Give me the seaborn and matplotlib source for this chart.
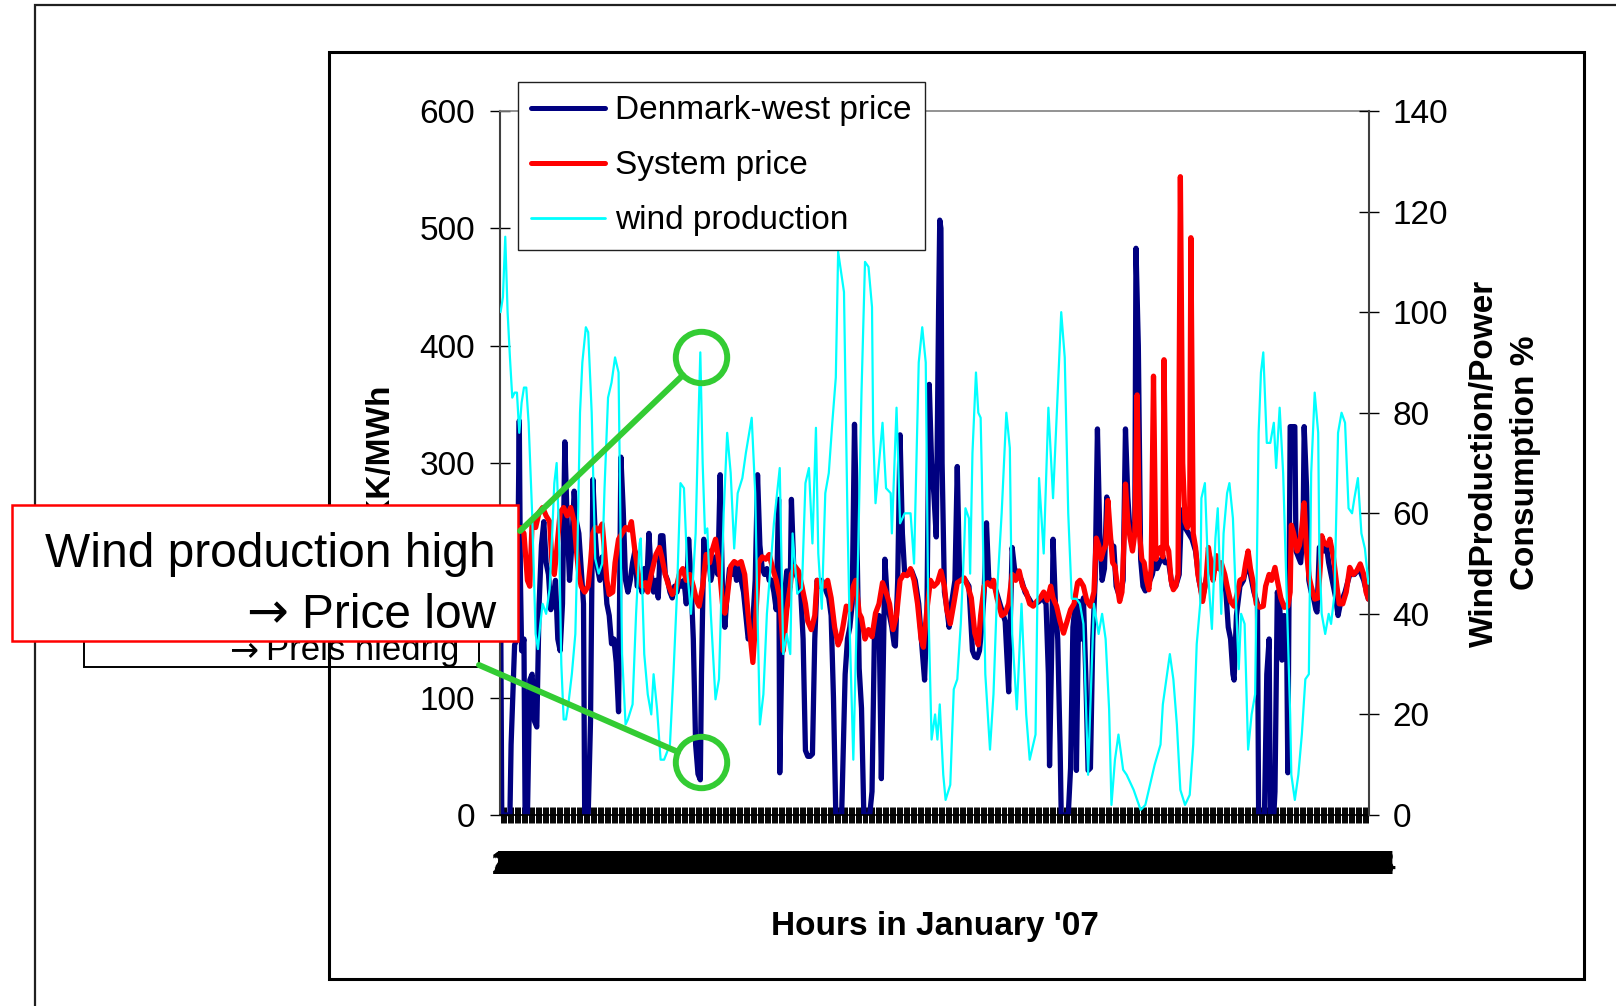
import pandas as pd
import matplotlib
matplotlib.use("Agg")
import matplotlib.pyplot as plt
import seaborn as sns
from matplotlib.patches import Rectangle, ConnectionPatch
from matplotlib.lines import Line2D

# hourly values (hour, value)
dkw_points = [
    (1, 190), (2, 0), (9, 0), (10, 60), (13, 145), (15, 150), (17, 336), (18, 200), (19, 140), (21, 150),
    (22, 0), (24, 0), (26, 115), (28, 120), (30, 80), (32, 75), (34, 180), (36, 230), (38, 250), (40, 215),
    (42, 205), (44, 175), (46, 185), (48, 200), (50, 150), (52, 140), (54, 180), (56, 318), (58, 250), (60, 200),
    (62, 230), (64, 276), (66, 250), (68, 240), (70, 210), (72, 180), (73, 0), (76, 0), (78, 80), (80, 286),
    (82, 240), (84, 210), (86, 200), (88, 220), (90, 210), (92, 180), (94, 170), (96, 146), (98, 150), (100, 130),
    (102, 88), (104, 305), (106, 260), (108, 200), (110, 190), (112, 200), (114, 215), (116, 225), (118, 195),
    (120, 200), (122, 190), (124, 210),
    (126, 195), (128, 240), (130, 205), (132, 190), (134, 200), (136, 185), (138, 238), (140, 238), (142, 205),
    (144, 200), (146, 190), (148, 185), (150, 195), (152, 190), (154, 200), (156, 195), (158, 200), (160, 180),
    (162, 235), (164, 200), (166, 150), (168, 60), (170, 35), (172, 30), (173, 120), (175, 235), (177, 215),
    (179, 225), (181, 200), (183, 210), (185, 220), (187, 205), (189, 290), (191, 190), (193, 160), (195, 190),
    (197, 210), (199, 205), (201, 215), (203, 200), (205, 210), (207, 200), (209, 190), (211, 170), (213, 150),
    (215, 155), (217, 165), (219, 200), (221, 290), (223, 230), (225, 210), (227, 205), (229, 210), (231, 200),
    (233, 200), (235, 190), (237, 175), (239, 269), (240, 36), (242, 150), (244, 185), (246, 208), (248, 200),
    (249, 195), (250, 269), (252, 210), (254, 205), (256, 200), (258, 190), (260, 150), (262, 55), (264, 50),
    (266, 50), (268, 52), (270, 150), (272, 200), (274, 195), (276, 200), (278, 195), (280, 190), (282, 185),
    (284, 170), (286, 100), (288, 0), (291, 0), (293, 0), (294, 40), (296, 120), (298, 150), (300, 160),
    (302, 180), (304, 333), (306, 240), (308, 125), (310, 91), (312, 0), (314, 0), (317, 0), (319, 20),
    (321, 150), (323, 160), (325, 170), (327, 31), (329, 150), (330, 218), (332, 185), (334, 170), (336, 160),
    (338, 145), (339, 144), (341, 200), (343, 324), (345, 240), (347, 205), (350, 205), (353, 208), (356, 200),
    (359, 180), (362, 140), (364, 115), (366, 170), (368, 367), (370, 300), (372, 273),
    (374, 237), (376, 430), (377, 507), (378, 500), (379, 300), (381, 190), (383, 177), (385, 160), (387, 180),
    (390, 200), (392, 297), (394, 200), (396, 200), (399, 200), (402, 195), (405, 140), (407, 135), (409, 134),
    (411, 140), (413, 160), (415, 190), (417, 249), (419, 200), (421, 200), (424, 195), (427, 185), (430, 175),
    (433, 165), (436, 105), (437, 150), (439, 228), (441, 210), (444, 205), (447, 200), (450, 190), (453, 185),
    (456, 180), (459, 180), (462, 182), (465, 185), (468, 180), (470, 120), (471, 42), (473, 150), (474, 235),
    (476, 180), (478, 150), (480, 60), (481, 0), (484, 0), (487, 0), (489, 40), (491, 160), (493, 180),
    (494, 38), (496, 182),
    (498, 150), (500, 185), (502, 120), (504, 38), (506, 40), (508, 150), (510, 200), (512, 329), (514, 240),
    (516, 200), (518, 210), (520, 271), (522, 240), (524, 230), (526, 229), (528, 195), (530, 189), (532, 190),
    (534, 200), (536, 329), (538, 271), (540, 240), (542, 230), (544, 250), (545, 483), (547, 400), (549, 218),
    (551, 195), (553, 191), (555, 200), (557, 200), (559, 205), (561, 215), (563, 210), (565, 215), (568, 220),
    (570, 215), (573, 215), (576, 195), (579, 195), (582, 205), (584, 260), (587, 245), (590, 240), (593, 235),
    (596, 225), (599, 200), (602, 185), (605, 200), (608, 220), (611, 205), (614, 215), (617, 210), (620, 205),
    (622, 190), (624, 160), (626, 150), (628, 120), (629, 115), (631, 170), (634, 195), (637, 200), (640, 215),
    (643, 205), (646, 190), (649, 180), (650, 0), (653, 0), (655, 0), (657, 120), (659, 150), (660, 0),
    (663, 0), (664, 20), (666, 190), (668, 180), (670, 132), (672, 170), (674, 150), (675, 36), (677, 331),
    (679, 331), (681, 331), (682, 225), (684, 220), (686, 215), (688, 240), (689, 331), (691, 280), (693, 200),
    (695, 190), (697, 185), (699, 175), (700, 173), (702, 228), (704, 230), (706, 225), (708, 230), (710, 215),
    (713, 200), (716, 185), (718, 170), (720, 180), (724, 190), (728, 205), (732, 205), (736, 210), (740, 200),
    (744, 184),
]

system_points = [
    (1, 240), (5, 235), (10, 230), (15, 240), (18, 245), (21, 240), (24, 200), (26, 195), (28, 250), (31, 245),
    (34, 258), (37, 262), (40, 255), (43, 250), (45, 215), (47, 205), (49, 225), (52, 258), (55, 262), (58, 255),
    (61, 262), (64, 250), (66, 225), (68, 205), (70, 195), (73, 190), (76, 195), (78, 215), (80, 240), (82, 245),
    (85, 242), (88, 248), (90, 225), (92, 200), (94, 188), (97, 190), (99, 215), (102, 235), (105, 240),
    (108, 245), (111, 243), (113, 250), (116, 225), (119, 205), (122, 195), (125, 198),
    (127, 190), (130, 205), (134, 222), (137, 228), (139, 220), (142, 205), (145, 195), (148, 188), (151, 192),
    (154, 205), (157, 210), (160, 200), (163, 205), (166, 195), (169, 182), (171, 178), (174, 195), (177, 222),
    (180, 215), (182, 225), (185, 235), (188, 215), (191, 180), (193, 172), (195, 185), (198, 212), (201, 216),
    (204, 214), (207, 216), (210, 205), (213, 170), (215, 150), (217, 130), (219, 160), (222, 215), (225, 220),
    (228, 218), (231, 222), (234, 210), (237, 200), (240, 185), (243, 140), (246, 175), (249, 195),
    (250, 205), (253, 212), (256, 208), (259, 195), (262, 180), (264, 165), (267, 158), (270, 170), (272, 200),
    (275, 198), (278, 195), (281, 200), (284, 185), (287, 160), (290, 145), (292, 150), (294, 160), (297, 178),
    (300, 175), (303, 195), (305, 200), (308, 172), (310, 168), (313, 150), (316, 158), (319, 152), (322, 172),
    (325, 180), (328, 198), (331, 190), (334, 180), (337, 158), (340, 170), (343, 200), (346, 205), (349, 204),
    (352, 210), (355, 200), (358, 180), (361, 150), (363, 143), (366, 175), (369, 200), (372, 195),
    (375, 198), (378, 208), (381, 195), (383, 175), (386, 163), (389, 180), (392, 198), (395, 200), (398, 202),
    (401, 195), (404, 185), (407, 155), (410, 145), (412, 170), (415, 195), (418, 198), (421, 195), (423, 200),
    (426, 185), (430, 170), (433, 172), (436, 180), (439, 205), (442, 200), (445, 208), (448, 195), (451, 190),
    (454, 180), (457, 178), (460, 182), (463, 185), (466, 190), (469, 183), (472, 195), (474, 185), (477, 178),
    (480, 165), (483, 155), (486, 165), (489, 175), (492, 180), (495, 198),
    (497, 200), (500, 195), (503, 182), (506, 178), (509, 190), (511, 236), (513, 230), (515, 218), (517, 225),
    (519, 230), (521, 268), (523, 240), (525, 215), (527, 212), (529, 195), (531, 182), (533, 190), (535, 240),
    (536, 282), (538, 250), (540, 236), (542, 225), (544, 240), (546, 358), (548, 240), (550, 218), (552, 215),
    (554, 200), (556, 192), (558, 210), (560, 374), (562, 218), (564, 225), (566, 228), (568, 220), (569, 388),
    (571, 230), (573, 225), (575, 200), (577, 192), (579, 195), (581, 205), (583, 544), (585, 300), (587, 250),
    (589, 245), (591, 250), (592, 492), (594, 240), (596, 228), (598, 205), (600, 195), (602, 182), (605, 200),
    (607, 228), (609, 215), (611, 200), (614, 221), (616, 210), (618, 215),
    (621, 205), (623, 195), (626, 182), (629, 178), (632, 190), (634, 200), (637, 202), (639, 215), (641, 225),
    (643, 210), (645, 200), (648, 180), (651, 177), (654, 178), (656, 195), (659, 205), (661, 200), (664, 211),
    (666, 200), (669, 185), (672, 177), (675, 178), (677, 190), (678, 247), (680, 240), (683, 225), (685, 230),
    (687, 245), (689, 266), (691, 225), (693, 204), (695, 195), (698, 184), (701, 185), (703, 215), (704, 238),
    (706, 232), (709, 230), (711, 235), (714, 220), (717, 195), (719, 180), (722, 180), (725, 190), (728, 211),
    (731, 205), (734, 208), (737, 214), (740, 205), (742, 190), (744, 184),
]

wind_points = [
    (1, 100), (3, 103), (5, 115), (7, 100), (9, 91), (11, 83), (13, 84), (15, 84), (17, 76), (19, 82), (21, 85),
    (23, 85), (25, 78), (28, 60), (31, 36), (33, 33), (35, 38), (37, 42), (40, 40), (43, 45), (45, 55), (47, 66),
    (49, 70), (51, 56), (53, 30), (55, 19), (57, 19), (59, 22), (62, 28), (65, 36), (67, 55), (69, 80), (71, 90),
    (74, 97), (76, 96), (79, 80), (82, 51), (85, 48), (88, 50), (90, 65), (93, 83), (96, 86), (99, 91),
    (102, 88), (104, 50), (105, 32), (108, 18), (110, 19), (114, 22), (117, 40), (120, 54),
    (121, 55), (124, 32), (127, 24), (130, 20), (132, 28), (135, 21), (138, 11), (141, 11), (146, 14),
    (149, 28), (152, 44), (155, 66), (158, 65), (161, 48), (164, 40), (168, 56), (170, 75), (172, 92),
    (174, 70), (176, 56), (178, 57), (181, 40), (185, 23), (188, 27), (192, 60), (195, 76), (198, 68),
    (201, 53), (204, 64), (208, 67), (211, 72), (216, 79), (219, 64), (221, 40), (223, 18), (226, 24),
    (229, 40), (235, 58), (240, 69), (243, 32), (246, 36),
    (249, 32), (251, 56), (255, 44), (259, 45), (262, 66), (265, 69), (268, 54), (271, 77), (273, 52),
    (276, 41), (279, 64), (282, 68), (285, 78), (288, 87), (290, 112), (295, 104), (298, 59), (300, 36),
    (303, 11), (306, 40), (310, 84), (313, 110), (316, 109), (319, 101), (320, 76), (322, 62), (328, 78),
    (331, 65), (335, 64), (336, 56), (340, 81), (343, 58), (347, 60), (352, 60), (355, 50), (359, 90),
    (362, 97), (365, 90), (367, 44), (370, 15),
    (373, 20), (375, 15), (377, 22), (380, 8), (382, 3), (386, 6), (389, 25), (392, 27), (395, 38), (398, 54),
    (399, 61), (402, 59), (403, 48), (405, 72), (408, 88), (410, 80), (412, 79), (413, 68), (416, 28),
    (420, 13), (423, 24), (426, 44), (430, 60), (434, 80), (437, 73), (439, 36), (443, 21), (447, 42),
    (451, 20), (454, 11), (459, 16), (462, 67), (466, 52), (470, 81), (474, 63), (477, 79), (481, 100),
    (484, 91), (487, 60), (490, 43), (494, 43),
    (497, 42), (500, 38), (503, 15), (504, 8), (506, 22), (509, 42), (513, 36), (516, 40), (519, 35),
    (522, 21), (524, 2), (527, 11), (530, 16), (534, 9), (537, 8), (543, 5), (549, 1), (553, 2), (557, 6),
    (561, 10), (566, 14), (568, 22), (571, 27), (574, 32), (577, 27), (580, 18), (583, 5), (587, 2), (591, 4),
    (594, 14), (597, 34), (600, 42), (601, 63), (604, 66), (607, 47), (610, 37), (613, 55), (615, 61),
    (618, 40),
    (620, 56), (623, 64), (625, 66), (628, 59), (631, 40), (633, 29), (635, 40), (638, 38), (641, 13),
    (644, 20), (647, 24), (650, 76), (652, 88), (654, 92), (657, 74), (660, 74), (663, 78), (665, 69),
    (668, 81), (671, 68), (674, 44), (677, 20), (678, 8), (681, 3), (684, 8), (687, 16), (690, 27), (693, 28),
    (695, 68), (698, 84), (701, 76), (702, 52), (704, 40), (707, 36), (710, 40), (712, 38), (715, 44),
    (718, 76), (721, 80), (724, 78), (727, 61), (730, 60), (732, 63), (735, 67), (738, 56), (741, 53),
    (744, 46),
]

hours = list(range(1, 745))
price_ticks = [0, 100, 200, 300, 400, 500, 600]
wind_ticks = [0, 20, 40, 60, 80, 100, 120, 140]
series_names = ["Denmark-west price", "System price", "wind production"]
series_colors = ["#000080", "#ff0000", "#00ffff"]

# callout: hour where high wind meets low price
callout_hour = 173
callout_wind = 91
callout_price = 45

dkw = pd.DataFrame(dkw_points, columns=["hour", "price"])
sysp = pd.DataFrame(system_points, columns=["hour", "price"])
wind = pd.DataFrame(wind_points, columns=["hour", "pct"])

sns.set_theme(style="white")
plt.rcParams["font.family"] = ["Liberation Sans", "DejaVu Sans"]
plt.rcParams["text.color"] = "black"
plt.rcParams["axes.labelcolor"] = "black"
plt.rcParams["xtick.color"] = "black"
plt.rcParams["ytick.color"] = "black"

W, H = 1616, 1006
fig = plt.figure(figsize=(W / 100, H / 100), dpi=100)
fig.patch.set_facecolor("white")

ax = fig.add_axes([500 / W, 1 - 815 / H, 869 / W, 704 / H])
ax2 = ax.twinx()

sns.lineplot(data=dkw, x="hour", y="price", ax=ax, color=series_colors[0], linewidth=3.8,
             estimator=None, sort=False, legend=False, zorder=2)
sns.lineplot(data=sysp, x="hour", y="price", ax=ax, color=series_colors[1], linewidth=3.8,
             estimator=None, sort=False, legend=False, zorder=3)
sns.lineplot(data=wind, x="hour", y="pct", ax=ax2, color=series_colors[2], linewidth=1.6,
             estimator=None, sort=False, legend=False, zorder=3)
for ln in ax.get_lines() + ax2.get_lines():
    ln.set_solid_joinstyle("round")
    ln.set_solid_capstyle("round")

ax.set_xlim(0.5, 744.5)
ax.set_ylim(0, 600)
ax2.set_ylim(0, 140)

ax.set_xticks(hours)
ax.set_xticklabels([str(h) for h in hours], fontsize=24, fontweight="bold")
ax.tick_params(axis="x", bottom=True, direction="inout", length=12, width=0.7, pad=19, colors="black")
ax.set_yticks(price_ticks)
ax.tick_params(axis="y", left=True, direction="inout", length=14, width=1, pad=11, labelsize=24, colors="black")
ax2.set_yticks(wind_ticks)
ax2.tick_params(axis="y", right=True, labelright=True, direction="inout", length=14, width=1, pad=10,
                labelsize=24, colors="black")

ax.set_xlabel("Hours in January '07", fontsize=24, fontweight="bold", color="black")
ax.xaxis.set_label_coords(0.5, -0.137)
ax.set_ylabel("DKK/MWh", fontsize=24, fontweight="bold", color="black")
ax.yaxis.set_label_coords(-0.121, 0.5)
ax2.set_ylabel("WindProduction/Power\nConsumption %", fontsize=24, fontweight="bold", color="black",
               linespacing=1.4)
ax2.yaxis.set_label_coords(1.115, 0.5)

for s in ["left", "top", "bottom"]:
    ax2.spines[s].set_visible(False)
ax.spines["right"].set_visible(False)
ax.spines["left"].set_color("#404040")
ax.spines["left"].set_linewidth(1.5)
ax.spines["top"].set_color("#808080")
ax.spines["top"].set_linewidth(1.2)
ax.spines["bottom"].set_color("black")
ax.spines["bottom"].set_linewidth(1.2)
ax2.spines["right"].set_color("#404040")
ax2.spines["right"].set_linewidth(1.5)

# legend sits partly above the plot area
handles = [Line2D([], [], color=series_colors[0], lw=3.6, solid_capstyle="round"),
           Line2D([], [], color=series_colors[1], lw=3.6, solid_capstyle="round"),
           Line2D([], [], color=series_colors[2], lw=2.0)]
leg = fig.legend(handles, series_names, loc="upper left", bbox_to_anchor=(518 / W, 1 - 82 / H),
                 fontsize=24, handlelength=2.2, handletextpad=0.3, labelspacing=0.72, borderpad=0.4,
                 borderaxespad=0, fancybox=False, framealpha=1, edgecolor="#202020")
leg.get_frame().set_linewidth(1.0)
for t in leg.get_texts():
    t.set_color("black")


def frac_rect(x0, y0, x1, y1, **kw):
    return Rectangle((x0 / W, 1 - y1 / H), (x1 - x0) / W, (y1 - y0) / H, transform=fig.transFigure, **kw)


# slide frames
fig.add_artist(frac_rect(35, 5, 1700, 1100, fill=False, edgecolor="#202020", lw=1.6, zorder=-1))
fig.add_artist(frac_rect(329, 52, 1584, 979, fill=False, edgecolor="black", lw=2.2, zorder=-1))

# text box behind, mostly hidden
fig.add_artist(frac_rect(84, 560, 479, 667, fill=False, edgecolor="black", lw=1.4, zorder=4))
fig.text(459 / W, 1 - 660 / H, "Preis niedrig", ha="right", va="baseline", fontsize=25, zorder=4.5,
         color="black")
fig.text(258 / W, 1 - 660 / H, "→", ha="right", va="baseline", fontsize=25, zorder=4.5,
         color="black", family=["DejaVu Sans"])

# red text box in front
fig.add_artist(frac_rect(12, 505, 518, 641, facecolor="white", edgecolor="#ff0000", lw=1.8, zorder=5))
fig.text(496 / W, 1 - 567 / H, "Wind production high", ha="right", va="baseline", fontsize=34.5, zorder=6,
         color="black")
fig.text(496 / W, 1 - 628 / H, "Price low", ha="right", va="baseline", fontsize=34.5, zorder=6,
         color="black")
fig.text(288 / W, 1 - 628 / H, "→", ha="right", va="baseline", fontsize=36, zorder=6,
         color="black", family=["DejaVu Sans"])

# green callouts
green = "#33cc33"
ax2.plot([callout_hour], [callout_wind], marker="o", ms=37, mfc="none", mec=green, mew=4.3,
         clip_on=False, zorder=10)
ax.plot([callout_hour], [callout_price], marker="o", ms=37, mfc="none", mec=green, mew=4.3,
        clip_on=False, zorder=10)
con1 = ConnectionPatch(xyA=(520 / W, 1 - 531 / H), coordsA="figure fraction",
                       xyB=(callout_hour, callout_wind), coordsB=ax2.transData,
                       color=green, lw=4.3, shrinkA=0, shrinkB=18.5, zorder=9)
con2 = ConnectionPatch(xyA=(479 / W, 1 - 665 / H), coordsA="figure fraction",
                       xyB=(callout_hour, callout_price), coordsB=ax.transData,
                       color=green, lw=4.3, shrinkA=0, shrinkB=18.5, zorder=9)
fig.add_artist(con1)
fig.add_artist(con2)

fig.savefig("out.png", dpi=100, facecolor="white")
